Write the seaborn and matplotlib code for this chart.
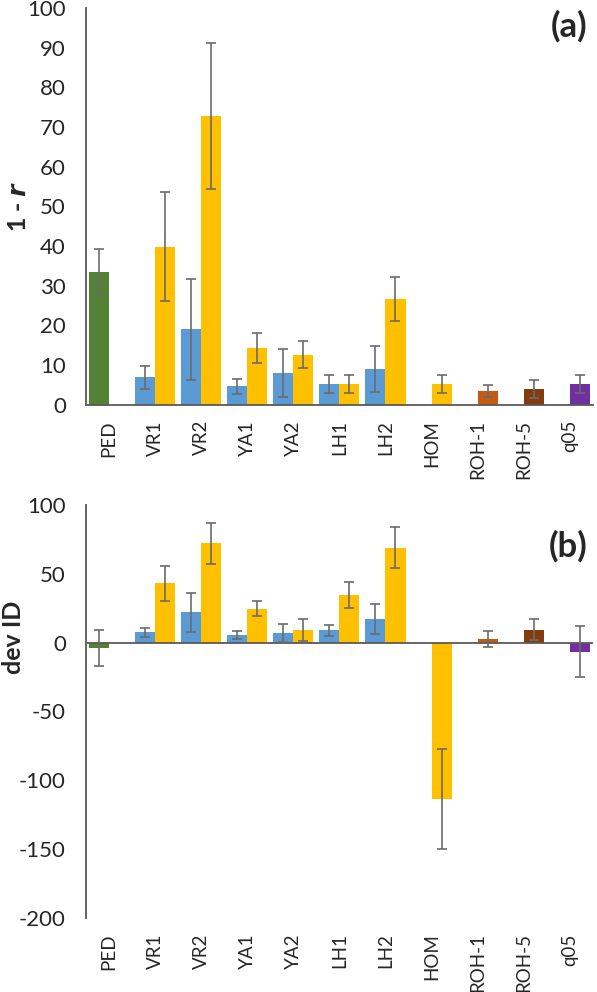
import matplotlib
matplotlib.use("Agg")
import matplotlib.pyplot as plt
import seaborn as sns
import pandas as pd

# categories on the x axis
methods = ["PED", "VR1", "VR2", "YA1", "YA2", "LH1", "LH2", "HOM", "ROH-1", "ROH-5", "q05"]

# panel (a): 1 - r, left slot (green / blue) and right slot (yellow / others)
a_left = [33.5, 6.9, 19.0, 4.7, 8.0, 5.2, 9.0, None, None, None, None]
a_left_err = [5.7, 2.9, 12.7, 1.9, 6.0, 2.2, 5.8, None, None, None, None]
a_right = [None, 39.8, 72.8, 14.3, 12.6, 5.2, 26.6, 5.2, 3.4, 4.0, 5.2]
a_right_err = [None, 13.7, 18.4, 3.8, 3.4, 2.2, 5.6, 2.2, 1.5, 2.3, 2.2]

# panel (b): dev ID
b_left = [-4.0, 7.4, 22.0, 5.5, 7.0, 9.0, 17.0, None, None, None, None]
b_left_err = [13.0, 3.5, 14.0, 3.0, 6.5, 4.0, 11.0, None, None, None, None]
b_right = [None, 43.0, 72.0, 24.5, 9.0, 34.5, 69.0, -113.5, 2.5, 9.3, -6.5]
b_right_err = [None, 13.0, 15.0, 5.5, 8.0, 9.5, 15.0, 36.5, 6.0, 7.7, 18.4]

left_colors = ["#548235"] + ["#5B9BD5"] * 10
right_colors = ["#FFC000"] * 8 + ["#C55A11", "#843C0C", "#7030A0"]

sns.set_style("white")
plt.rcParams["font.family"] = ["Lato", "DejaVu Sans"]

AXIS_COL = "#595959"
ERR_COL = "#6b6b6b"


def long_frame(left, left_err, right, right_err):
    rows = []
    for i, m in enumerate(methods):
        if left[i] is not None:
            rows.append({"method": m, "slot": "left", "value": left[i], "err": left_err[i], "color": left_colors[i]})
        if right[i] is not None:
            rows.append({"method": m, "slot": "right", "value": right[i], "err": right_err[i], "color": right_colors[i]})
    return pd.DataFrame(rows)


def draw_panel(ax, df, ylim, yticks, ylabel, label_x, label_y, tag, tag_y):
    sns.barplot(data=df, x="method", y="value", hue="slot", order=methods,
                hue_order=["left", "right"], width=0.87, dodge=True,
                errorbar=None, legend=False, ax=ax)
    lookup = {(r.method, r.slot): r for r in df.itertuples()}
    for p in ax.patches:
        h = p.get_height()
        if h != h:
            continue
        xc = p.get_x() + p.get_width() / 2
        idx = int(round(xc))
        slot = "left" if xc < idx else "right"
        row = lookup.get((methods[idx], slot))
        if row is None:
            continue
        p.set_facecolor(row.color)
        p.set_edgecolor("none")
        ax.errorbar(xc, row.value, yerr=row.err, fmt="none", ecolor=ERR_COL,
                    elinewidth=1.2, capsize=3.6, capthick=1.2, zorder=3)
    ax.set_xlim(-0.5, len(methods) - 0.5)
    ax.set_ylim(*ylim)
    ax.set_yticks(yticks)
    ax.set_yticklabels([str(t) for t in yticks], fontsize=16)
    ax.set_xticks(range(len(methods)))
    ax.set_xticklabels(methods, rotation=90, fontsize=13.5)
    ax.tick_params(axis="y", length=0, pad=14.5)
    ax.tick_params(axis="x", length=0, pad=11)
    ax.set_xlabel("")
    ax.set_ylabel(ylabel, fontsize=18, fontweight="bold")
    ax.yaxis.set_label_coords(label_x, label_y)
    for s in ["top", "right"]:
        ax.spines[s].set_visible(False)
    ax.spines["left"].set_color(AXIS_COL)
    ax.spines["left"].set_linewidth(1.3)
    ax.grid(False)
    ax.text(0.99, tag_y, tag, transform=ax.transAxes, ha="right", va="center",
            fontsize=25, fontweight="bold")


fig = plt.figure(figsize=(5.97, 9.92), dpi=100)
ax_a = fig.add_axes([0.144, 0.592, 0.849, 0.400])
ax_b = fig.add_axes([0.144, 0.0746, 0.849, 0.4164])

df_a = long_frame(a_left, a_left_err, a_right, a_right_err)
df_b = long_frame(b_left, b_left_err, b_right, b_right_err)

draw_panel(ax_a, df_a, (0, 100), list(range(0, 101, 10)), r"1 - $\bfit{r}$",
           -0.11, 0.5, "(a)", 0.955)
ax_a.spines["bottom"].set_color(AXIS_COL)
ax_a.spines["bottom"].set_linewidth(1.3)

draw_panel(ax_b, df_b, (-200, 100), list(range(-200, 101, 50)), "dev ID",
           -0.12, 0.68, "(b)", 0.90)
ax_b.spines["bottom"].set_visible(False)
ax_b.axhline(0, color=AXIS_COL, lw=1.3, zorder=2)

fig.savefig("out.png", dpi=100)
